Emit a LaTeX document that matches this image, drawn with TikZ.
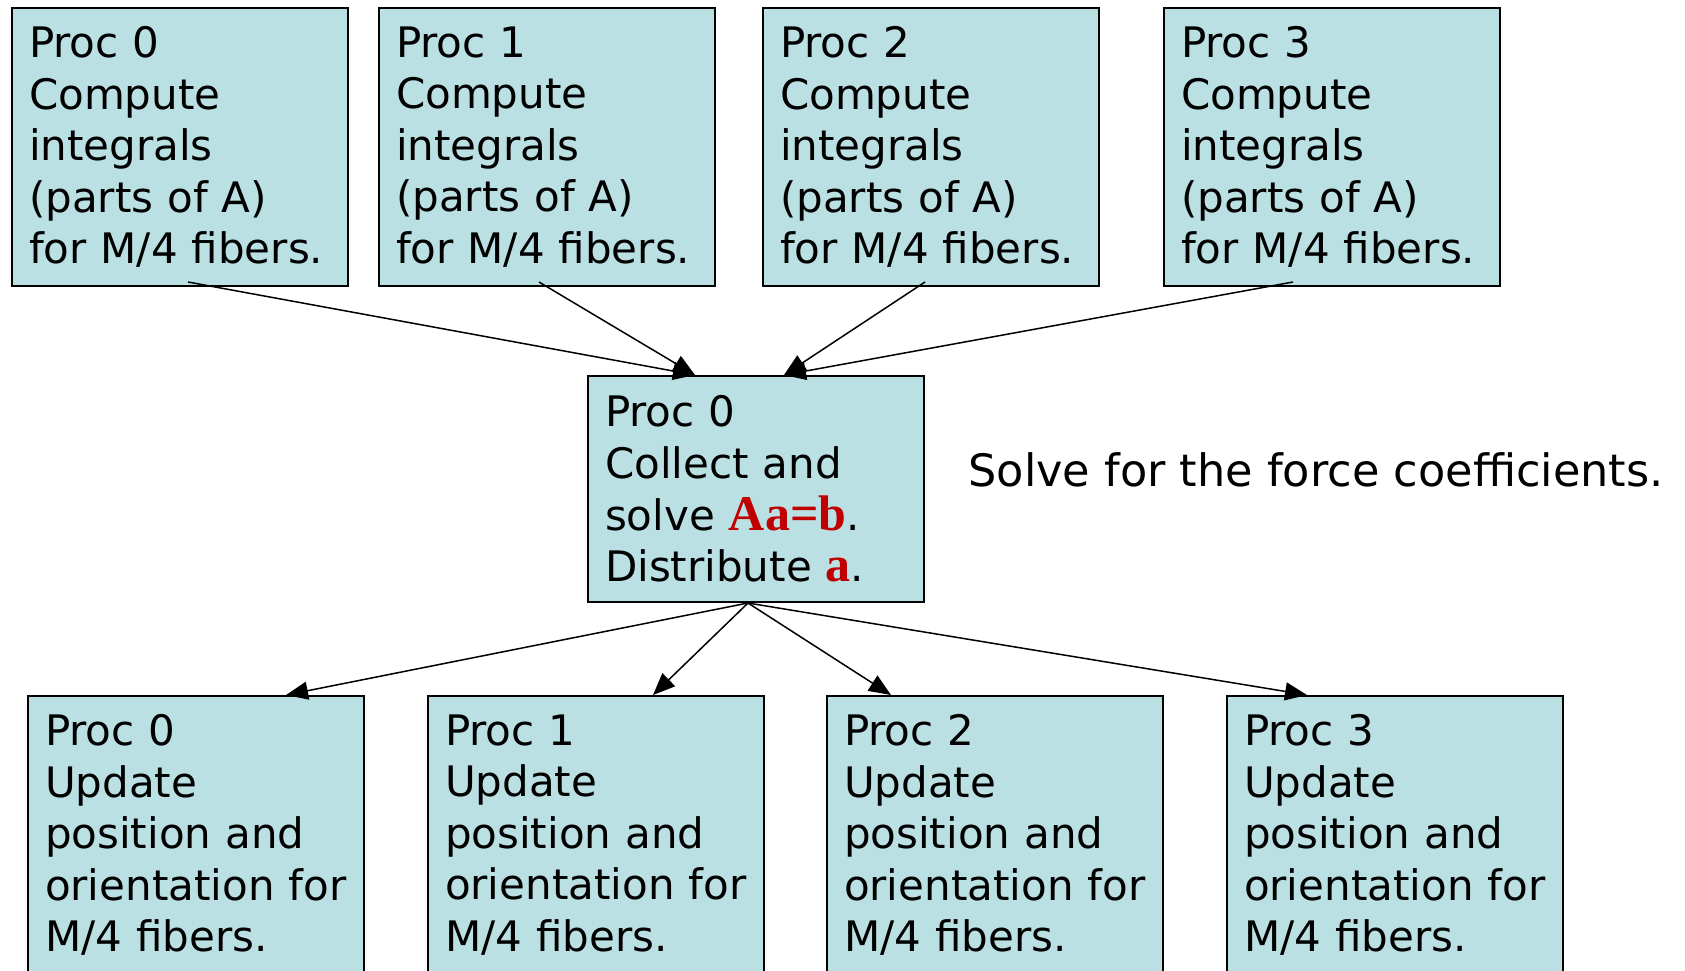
\documentclass[tikz,border=0pt]{standalone}
\usepackage{fontspec}
\setmainfont{DejaVu Sans}
\newfontfamily\timesbold{Liberation Serif}
\usetikzlibrary{arrows.meta}
\definecolor{boxfill}{RGB}{187,224,227}
\definecolor{solvered}{RGB}{192,0,0}
\newcommand{\redvec}[1]{{\timesbold\bfseries\fontsize{25}{25.8}\selectfont\color{solvered}#1}}

\begin{document}
\begin{tikzpicture}[x=0.5pt,y=-0.5pt,
    proc/.style={draw, line width=1pt, fill=boxfill, anchor=north west,
      text width=151pt, inner xsep=8.5pt, inner ysep=0pt, minimum height=139pt,
      align=left, font=\fontsize{21}{25.8}\selectfont},
    flow/.style={-{Triangle[length=11pt,width=9pt]}, line width=0.75pt}]
    \clip (0,0) rectangle (1685,970);
    \node[proc] (c0) at (11,7) {Proc 0\\Compute\\integrals\\(parts of A)\\for M/4 fibers.};
    \node[proc] (c1) at (378,7) {Proc 1\\Compute\\integrals\\(parts of A)\\for M/4 fibers.};
    \node[proc] (c2) at (762,7) {Proc 2\\Compute\\integrals\\(parts of A)\\for M/4 fibers.};
    \node[proc] (c3) at (1163,7) {Proc 3\\Compute\\integrals\\(parts of A)\\for M/4 fibers.};
    \node[proc, minimum height=113pt] (solve) at (587,375)
        {Proc 0\\Collect and\\solve \redvec{Aa=b}.\\Distribute \redvec{a}.};
    \node[anchor=west, inner sep=0pt, font=\fontsize{22.3}{25.8}\selectfont] (note) at (968,470)
        {Solve for the force coefficients.};
    \node[proc] (u0) at (27,695) {Proc 0\\Update\\position and\\orientation for\\M/4 fibers.};
    \node[proc] (u1) at (427,695) {Proc 1\\Update\\position and\\orientation for\\M/4 fibers.};
    \node[proc] (u2) at (826,695) {Proc 2\\Update\\position and\\orientation for\\M/4 fibers.};
    \node[proc] (u3) at (1226,695) {Proc 3\\Update\\position and\\orientation for\\M/4 fibers.};
    \draw[flow] ([xshift=4pt,yshift=2.5pt]c0.south) -- ([xshift=-30.5pt]solve.north);
    \draw[flow] ([xshift=-4pt,yshift=2.5pt]c1.south) -- ([xshift=-30.5pt]solve.north);
    \draw[flow] ([xshift=-3pt,yshift=2.5pt]c2.south) -- ([xshift=14pt]solve.north);
    \draw[flow] ([xshift=-19.5pt,yshift=2.5pt]c3.south) -- ([xshift=14pt]solve.north);
    \draw[flow] ([xshift=-4pt]solve.south) -- ([xshift=45pt]u0.north);
    \draw[flow] ([xshift=-4pt]solve.south) -- ([xshift=28.5pt]u1.north);
    \draw[flow] ([xshift=-4pt]solve.south) -- ([xshift=-52pt]u2.north);
    \draw[flow] ([xshift=-4pt]solve.south) -- ([xshift=-44pt]u3.north);
\end{tikzpicture}
\end{document}
